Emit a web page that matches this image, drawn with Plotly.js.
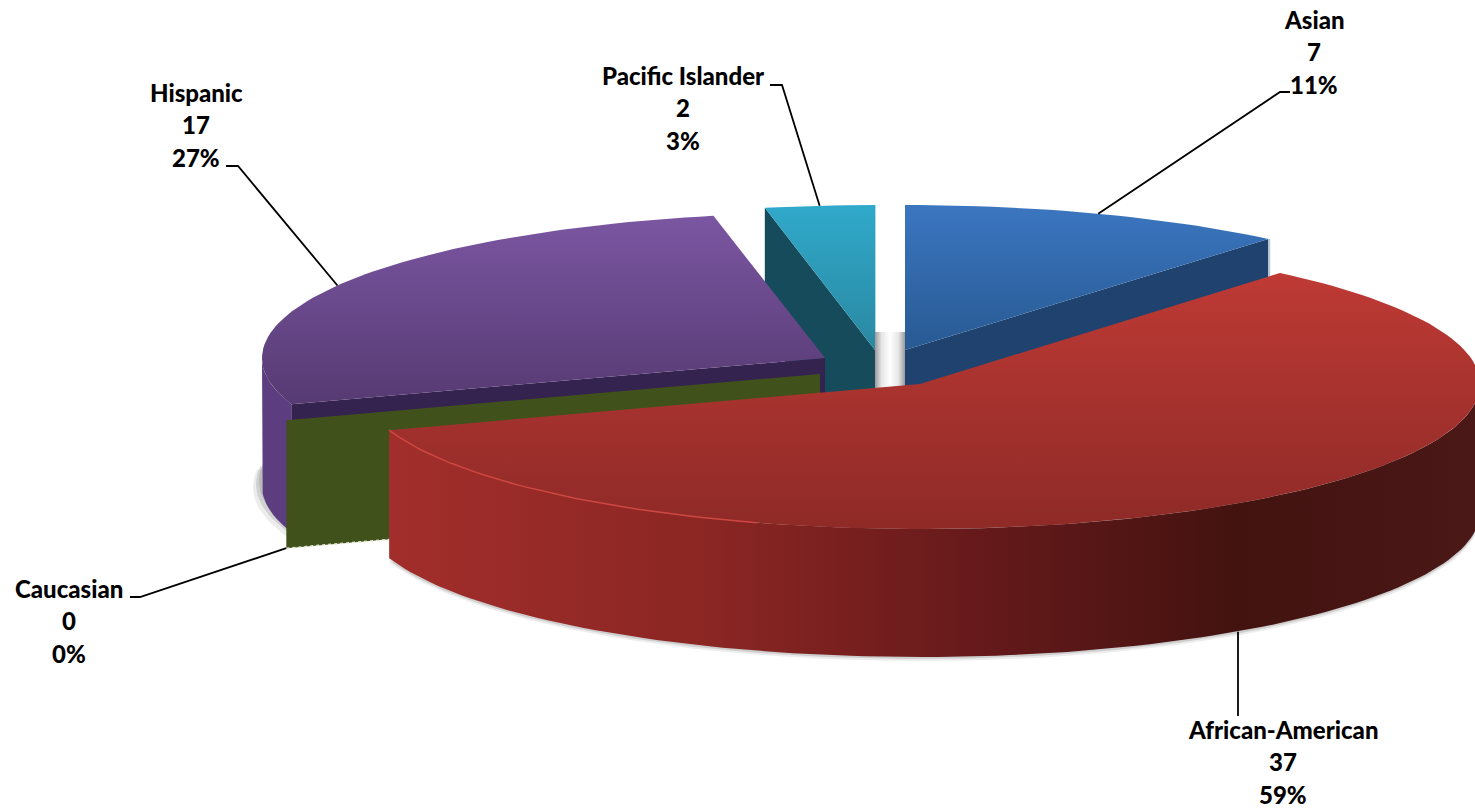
<!DOCTYPE html>
<html>
<head>
<meta charset="utf-8">
<script src="https://cdn.plot.ly/plotly-3.0.1.min.js"></script>
<style>html,body{margin:0;padding:0;background:#fff}#chart{width:1475px;height:809px}</style>
</head>
<body>
<div id="chart"></div>
<script>
// ---- data (clockwise from twelve o'clock) ----
const categories = ["Asian", "African-American", "Caucasian", "Hispanic", "Pacific Islander"];
const counts = [7, 37, 0, 17, 2];

// ---- projection of each exploded slice: centre and radii of its ellipse ----
const centerX = [905, 920, 820, 825, 875];
const centerY = [350, 384, 374, 358, 350];
const radiusX = [565, 560, 563, 563, 556];
const radiusY = [145, 145, 145, 145, 145];
const depth = 128;

// ---- label placement ----
const labelX = [1314, 1283, 69, 196, 683];
const labelY = [19, 729, 588, 92, 75];
const elbowX = [1280, 1238, 140, 238, 782];
const elbowY = [92, 716, 597, 166, 85];
const tailX = [1290, 1238, 130, 226, 770];
const lineGap = 32.5;

const total = counts.reduce((a, b) => a + b, 0);
let running = 0;
const startDeg = [], endDeg = [];
counts.forEach(v => { startDeg.push(running); running += v / total * 360; endDeg.push(running); });

const pt = (i, deg, dz = 0, dx = 0, dy = 0) => {
  const r = deg * Math.PI / 180;
  return [centerX[i] + dx + radiusX[i] * Math.sin(r), centerY[i] + dy + dz - radiusY[i] * Math.cos(r)];
};
const arc = (i, a, b, dz = 0, dx = 0, dy = 0) => {
  const n = Math.max(1, Math.ceil(Math.abs(b - a) / 1.5)), out = [];
  for (let k = 0; k <= n; k++) out.push(pt(i, a + (b - a) * k / n, dz, dx, dy));
  return out;
};
const traces = [];
const poly = (pts, fill) => {
  const t = {
    x: pts.map(p => p[0]).concat([pts[0][0]]),
    y: pts.map(p => p[1]).concat([pts[0][1]]),
    type: 'scatter', mode: 'lines', fill: 'toself', line: { width: 0 },
    hoverinfo: 'skip', showlegend: false
  };
  if (typeof fill === 'string') t.fillcolor = fill; else t.fillgradient = fill;
  traces.push(t);
};
const stroke = (pts, color, width, dash) => traces.push({
  x: pts.map(p => p[0]), y: pts.map(p => p[1]), type: 'scatter', mode: 'lines',
  line: { color, width, dash: dash || 'solid' }, hoverinfo: 'skip', showlegend: false
});
const vgrad = (a, b, c0, c1) => ({ type: 'vertical', start: a, stop: b, colorscale: [[0, c0], [1, c1]] });

const [AS, AF, CA, HI, PI] = [0, 1, 2, 3, 4];
const apex = (i, dz = 0, dx = 0, dy = 0) => [centerX[i] + dx, centerY[i] + dz + dy];

// soft shadows
[[9, '0.10'], [6, '0.16'], [3, '0.16']].forEach(([s, o]) => {
  poly([apex(HI, depth, -s, -8)].concat(arc(HI, 250, 277, depth, -s, -8 + s)), `rgba(70,70,70,${o})`);
});
[[4, '0.10'], [2, '0.18']].forEach(([s, o]) => {
  poly([apex(AF, depth, 0, s)].concat(arc(AF, 60, endDeg[AF], depth, 0, s)), `rgba(70,70,70,${o})`);
});

// Asian
poly([apex(AS), pt(AS, endDeg[AS]), pt(AS, endDeg[AS], depth), apex(AS, depth)], '#1f436e');
stroke([pt(AS, endDeg[AS], 0, 1), pt(AS, endDeg[AS], depth, 1)], '#b4c2d3', 2);
poly([apex(AS)].concat(arc(AS, startDeg[AS], endDeg[AS])), vgrad(205, 350, '#3b76c0', '#285a93'));

// Pacific Islander
poly([apex(PI), pt(PI, startDeg[PI]), pt(PI, startDeg[PI], depth), apex(PI, depth)], '#154b5a');
poly([apex(PI)].concat(arc(PI, startDeg[PI], 360)), vgrad(205, 350, '#30a9ca', '#2a88a2'));
stroke([pt(PI, 360, 0, 0.5), apex(PI, 0, 0.5)], '#a8dce8', 1);

// shaded gap between the two back slices
poly([[apex(PI)[0], apex(PI)[1] - 18], [apex(AS)[0], apex(AS)[1] - 18], apex(AS, 45), apex(PI, 45)],
  { type: 'horizontal', start: apex(PI)[0], stop: apex(AS)[0],
    colorscale: [[0, '#9a9a9a'], [0.22, '#e6e6e6'], [0.5, '#ffffff'], [0.78, '#e6e6e6'], [1, '#9a9a9a']] });

// Hispanic
poly(arc(HI, startDeg[HI], 270).concat(arc(HI, 270, startDeg[HI], depth)), '#5c3e80');
poly([apex(HI), pt(HI, startDeg[HI]), pt(HI, startDeg[HI], depth), apex(HI, depth)], '#35234f');
poly([apex(HI)].concat(arc(HI, startDeg[HI], endDeg[HI])), vgrad(215, 405, '#7b56a2', '#563a72'));

// Caucasian: a zero-width slice, only its cut face shows
poly([apex(CA), pt(CA, startDeg[CA]), pt(CA, startDeg[CA], depth), apex(CA, depth)], '#41511c');
stroke([pt(CA, startDeg[CA], depth), apex(CA, depth)], '#dfe5cf', 1.5, 'dot');

// African-American
poly(arc(AF, 90, endDeg[AF]).concat(arc(AF, endDeg[AF], 90, depth)),
  { type: 'horizontal', start: pt(AF, endDeg[AF])[0], stop: 1475,
    colorscale: [[0, '#a22e2b'], [0.3, '#8a2623'], [0.55, '#65191a'], [0.78, '#431310'], [1, '#4a1816']] });
poly([apex(AF)].concat(arc(AF, startDeg[AF], endDeg[AF])), vgrad(270, 529, '#bf3a35', '#8e2a27'));
stroke(arc(AF, 197, endDeg[AF]), '#cf4742', 1.5);

// leader lines
const midDeg = i => (startDeg[i] + endDeg[i]) / 2;
categories.forEach((c, i) => {
  let s;
  if (i === AF) s = [elbowX[i], pt(i, midDeg(i), depth)[1]];
  else if (i === CA) s = pt(i, startDeg[i], depth);
  else s = pt(i, midDeg(i));
  stroke([s, [elbowX[i], elbowY[i]], [tailX[i], elbowY[i]]], '#000000', 1.8);
});

// labels
const annotations = [];
categories.forEach((c, i) => {
  [c, String(counts[i]), Math.round(counts[i] / total * 100) + '%'].forEach((line, k) => {
    annotations.push({
      x: labelX[i], y: labelY[i] + k * lineGap, xref: 'x', yref: 'y', text: line,
      showarrow: false, xanchor: 'center', yanchor: 'middle',
      font: { family: 'Lato, sans-serif', size: 24, weight: 900, color: '#000000' }
    });
  });
});

Plotly.newPlot('chart', traces, {
  width: 1475, height: 809, margin: { l: 0, r: 0, t: 0, b: 0 },
  paper_bgcolor: '#ffffff', plot_bgcolor: '#ffffff', showlegend: false,
  xaxis: { range: [0, 1475], visible: false, fixedrange: true },
  yaxis: { range: [809, 0], visible: false, fixedrange: true },
  annotations
}, { displayModeBar: false, staticPlot: true });
</script>
</body>
</html>
